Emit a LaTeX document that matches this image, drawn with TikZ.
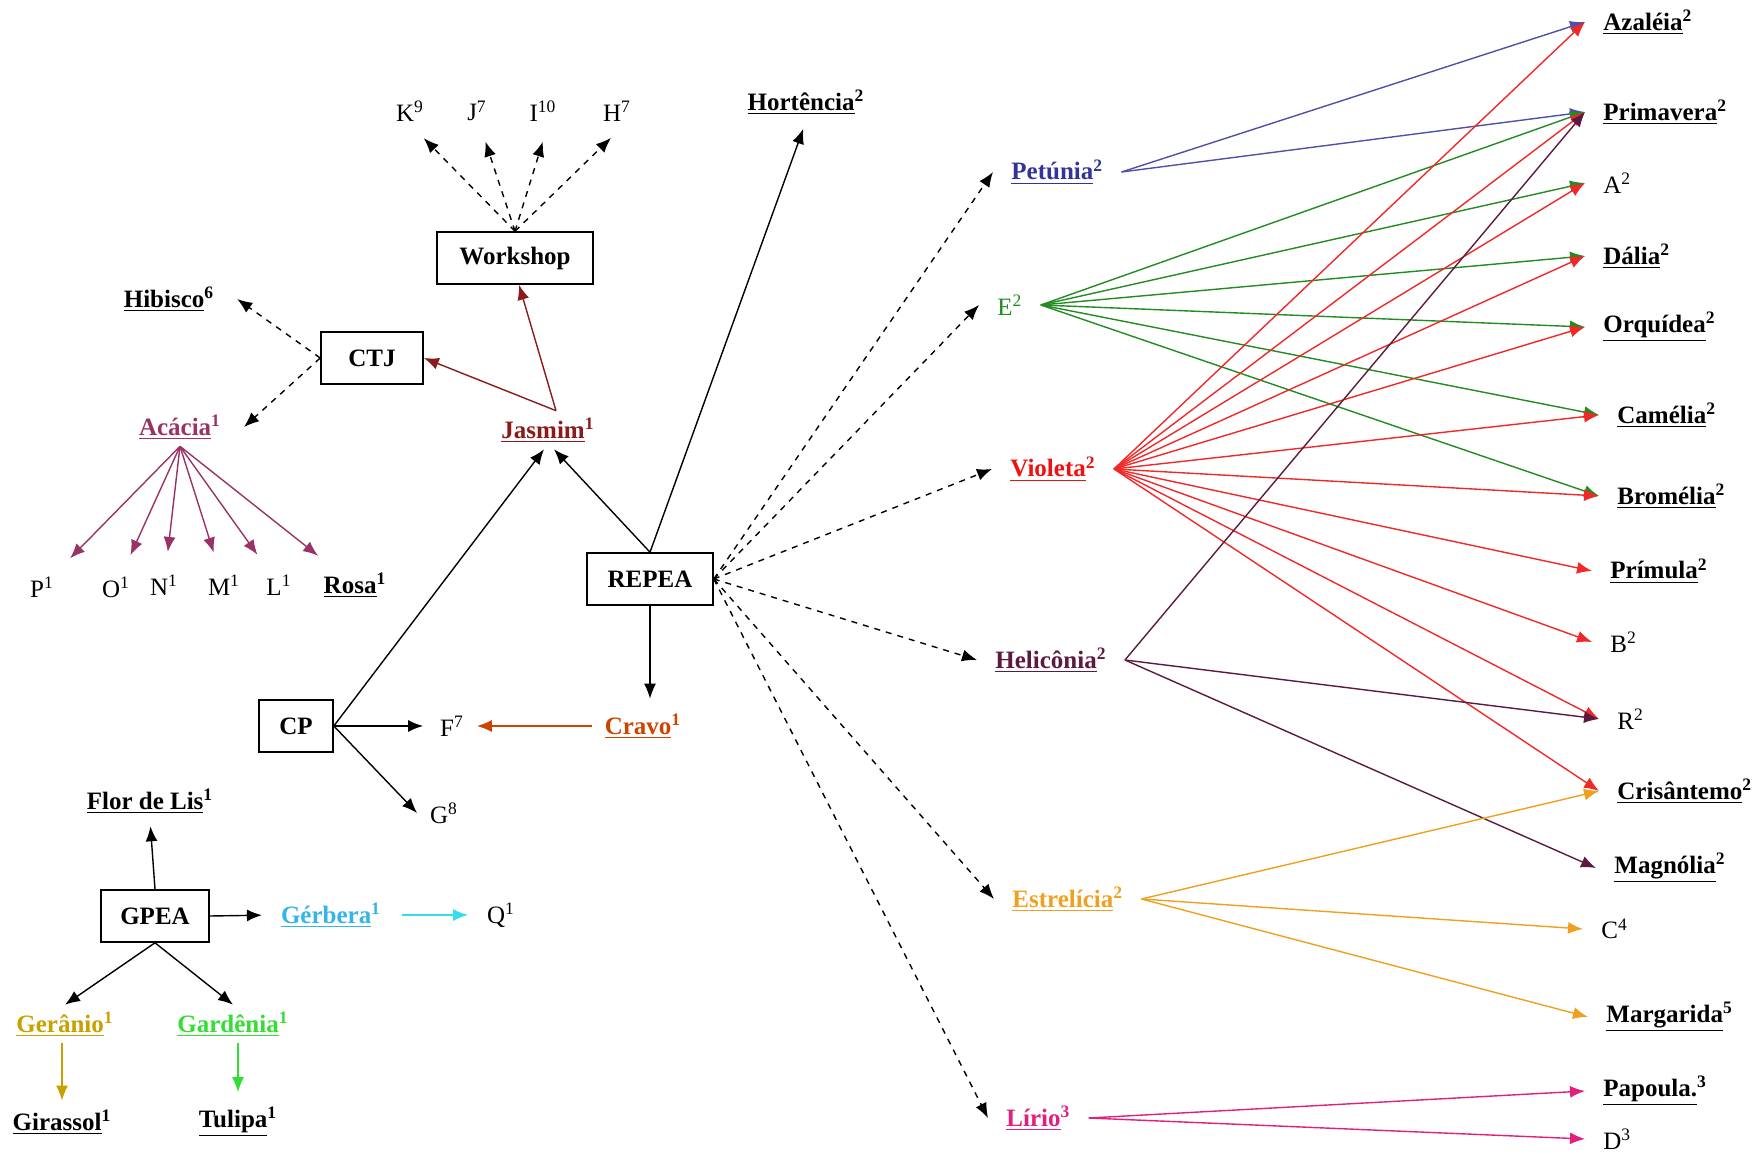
\documentclass[tikz,border=0pt]{standalone}
\usepackage{fontspec}
\setmainfont{Liberation Serif}
\usetikzlibrary{arrows.meta}

\definecolor{acacia}{HTML}{993366}
\definecolor{jasmim}{HTML}{8B1A1A}
\definecolor{cravo}{HTML}{CC4400}
\definecolor{gerbera}{HTML}{33B5E5}
\definecolor{gerbarrow}{HTML}{33DDEE}
\definecolor{geranio}{HTML}{C8A000}
\definecolor{gardenia}{HTML}{33DD33}
\definecolor{petunia}{HTML}{333399}
\definecolor{petarrow}{HTML}{5050A8}
\definecolor{egreen}{HTML}{228B22}
\definecolor{violeta}{HTML}{EE1111}
\definecolor{violarrow}{HTML}{F02828}
\definecolor{heliconia}{HTML}{5C1A40}
\definecolor{estrelicia}{HTML}{F0A020}
\definecolor{lirio}{HTML}{E0207A}

\begin{document}
\begin{tikzpicture}[
    x=0.5pt, y=-0.5pt,
    >={Latex[length=7.5pt,width=6pt]},
    font=\fontsize{12.5}{15}\selectfont,
    box/.style={
        draw,
        rectangle,
        minimum height=26pt,
        line width=0.8pt,
        font=\fontsize{12.5}{15}\selectfont\bfseries
    },
    flw/.style={font=\fontsize{12.5}{15}\selectfont\bfseries},
    side/.style={inner xsep=9pt, anchor=west},
    link/.style={->, line width=0.7pt},
    fan/.style={->, line width=0.7pt}
]
\useasboundingbox (0,0) rectangle (1760,1154);

% left part
\node (k9) at (410,111) {K\textsuperscript{9}};
\node (j7) at (477,111) {J\textsuperscript{7}};
\node (i10) at (543,111) {I\textsuperscript{10}};
\node (h7) at (617,111) {H\textsuperscript{7}};
\node[box, minimum width=78pt] (ws) at (515,258) {Workshop};
\node[flw] (hor) at (806,102) {\underline{Hortência}\textsuperscript{2}};
\node[flw] (hib) at (169,299) {\underline{Hibisco}\textsuperscript{6}};
\node[box, minimum width=51pt] (ctj) at (372,358) {CTJ};
\node[flw, text=acacia] (aca) at (180,427) {\underline{Acácia}\textsuperscript{1}};
\node[flw, text=jasmim] (jas) at (548,430) {\underline{Jasmim}\textsuperscript{1}};
\node (p1) at (42,587) {P\textsuperscript{1}};
\node (o1) at (116,587) {O\textsuperscript{1}};
\node (n1) at (164,585) {N\textsuperscript{1}};
\node (m1) at (224,585) {M\textsuperscript{1}};
\node (l1) at (279,585) {L\textsuperscript{1}};
\node[flw] (rosa) at (355,585) {\underline{Rosa}\textsuperscript{1}};
\node[box, minimum width=63pt] (repea) at (650,579) {REPEA};
\node[box, minimum width=37pt] (cp) at (296,726) {CP};
\node (f7) at (452,726) {F\textsuperscript{7}};
\node[flw, text=cravo] (cra) at (643,726) {\underline{Cravo}\textsuperscript{1}};
\node (g8) at (444,813) {G\textsuperscript{8}};
\node[flw] (flor) at (150,801) {\underline{Flor de Lis}\textsuperscript{1}};
\node[box, minimum width=54pt] (gpea) at (155,916) {GPEA};
\node[flw, text=gerbera] (ger) at (331,915) {\underline{Gérbera}\textsuperscript{1}};
\node (q1) at (501,915) {Q\textsuperscript{1}};
\node[flw, text=geranio] (gera) at (65,1024) {\underline{Gerânio}\textsuperscript{1}};
\node[flw, text=gardenia] (gard) at (233,1024) {\underline{Gardênia}\textsuperscript{1}};
\node[flw] (gira) at (62,1122) {\underline{Girassol}\textsuperscript{1}};
\node[flw] (tul) at (238,1122) {\underline{Tulipa}\textsuperscript{1}};

% middle column
\node[flw, side, text=petunia] (pet) at (993,172) {\underline{Petúnia}\textsuperscript{2}};
\node[side, text=egreen] (e2) at (979,305) {E\textsuperscript{2}};
\node[flw, side, text=violeta] (vio) at (992,469) {\underline{Violeta}\textsuperscript{2}};
\node[flw, side, text=heliconia] (hel) at (977,660) {\underline{Helicônia}\textsuperscript{2}};
\node[flw, side, text=estrelicia] (est) at (994,899) {\underline{Estrelícia}\textsuperscript{2}};
\node[flw, side, text=lirio] (lir) at (988,1118) {\underline{Lírio}\textsuperscript{3}};

% right column
\node[flw, side] (aza) at (1585,22) {\underline{Azaléia}\textsuperscript{2}};
\node[flw, side] (pri) at (1585,112) {\underline{Primavera}\textsuperscript{2}};
\node[side] (a2) at (1585,183) {A\textsuperscript{2}};
\node[flw, side] (dal) at (1585,256) {\underline{Dália}\textsuperscript{2}};
\node[flw, side] (orq) at (1585,327) {\underline{Orquídea}\textsuperscript{2}};
\node[flw, side] (cam) at (1599,415) {\underline{Camélia}\textsuperscript{2}};
\node[flw, side] (bro) at (1599,496) {\underline{Bromélia}\textsuperscript{2}};
\node[flw, side] (prm) at (1592,571) {\underline{Prímula}\textsuperscript{2}};
\node[side] (b2) at (1592,642) {B\textsuperscript{2}};
\node[side] (r2) at (1599,719) {R\textsuperscript{2}};
\node[flw, side] (cri) at (1599,791) {\underline{Crisântemo}\textsuperscript{2}};
\node[flw, side] (mag) at (1596,868) {\underline{Magnólia}\textsuperscript{2}};
\node[side] (c4) at (1583,929) {C\textsuperscript{4}};
\node[flw, side] (mar) at (1588,1017) {\underline{Margarida}\textsuperscript{5}};
\node[flw, side] (pap) at (1585,1091) {\underline{Papoula.}\textsuperscript{3}};
\node[side] (d3) at (1585,1139) {D\textsuperscript{3}};

% black and dashed links, left
\draw[link, dashed, shorten >=7pt] (ws.north) -- ([xshift=2pt]k9.south);
\draw[link, dashed, shorten >=7pt] (ws.north) -- ([xshift=2pt]j7.south);
\draw[link, dashed, shorten >=7pt] (ws.north) -- ([xshift=2pt]i10.south);
\draw[link, dashed, shorten >=7pt] (ws.north) -- ([xshift=2pt]h7.south);
\draw[link, jasmim] ([xshift=4pt]jas.north) -- ([xshift=2pt]ws.south);
\draw[link, jasmim] ([xshift=4pt]jas.north) -- (ctj.east);
\draw[link, dashed] (ctj.west) -- ([xshift=8pt]hib.east);
\draw[link, dashed] (ctj.west) -- ([xshift=8pt]aca.east);
\draw[link] (cp.east) -- ([xshift=-2pt]jas.south);
\draw[link] (repea.north) -- ([xshift=3pt]jas.south);
\draw[link, shorten >=4pt] (repea.north) -- (hor.south);
\draw[link, shorten >=4pt] (repea.south) -- (repea.south |- cra.north);
\draw[link, cravo, shorten <=3pt, shorten >=3pt] (cra.west) -- (f7.east);
\draw[link, shorten >=5pt] (cp.east) -- (f7.west);
\draw[link] (cp.east) -- ([xshift=-3pt]g8.west);

\draw[fan, acacia, shorten >=8pt] (aca.south) -- (p1);
\draw[fan, acacia, shorten >=8pt] (aca.south) -- (o1);
\draw[fan, acacia, shorten >=8pt] (aca.south) -- (n1);
\draw[fan, acacia, shorten >=8pt] (aca.south) -- (m1);
\draw[fan, acacia, shorten >=8pt] (aca.south) -- (l1);
\draw[fan, acacia, shorten >=8pt] (aca.south) -- (rosa);

\draw[link, shorten >=3pt] (gpea.north) -- (flor.south);
\draw[link, shorten >=6pt] (gpea.east) -- (ger.west);
\draw[fan, gerbarrow, shorten <=7pt, shorten >=6pt] (ger.east) -- (q1.west);
\draw[link] (gpea.south) -- (gera.north);
\draw[link] (gpea.south) -- (gard.north);
\draw[fan, geranio, shorten >=1pt] (gira.north |- gera.south) -- (gira.north);
\draw[fan, gardenia, shorten >=4pt] (tul.north |- gard.south) -- (tul.north);

% REPEA to the middle column
\draw[link, dashed] (repea.east) -- (pet.west);
\draw[link, dashed] (repea.east) -- (e2.west);
\draw[link, dashed] (repea.east) -- (vio.west);
\draw[link, dashed] (repea.east) -- (hel.west);
\draw[link, dashed] (repea.east) -- (est.west);
\draw[link, dashed] (repea.east) -- (lir.west);

% fans to the right column
\draw[fan, petarrow] (pet.east) -- (aza.west);
\draw[fan, petarrow] (pet.east) -- (pri.west);

\draw[fan, egreen] (e2.east) -- (pri.west);
\draw[fan, egreen] (e2.east) -- (a2.west);
\draw[fan, egreen] (e2.east) -- (dal.west);
\draw[fan, egreen] (e2.east) -- (orq.west);
\draw[fan, egreen] (e2.east) -- (cam.west);
\draw[fan, egreen] (e2.east) -- (bro.west);

\draw[fan, violarrow] (vio.east) -- (aza.west);
\draw[fan, violarrow] (vio.east) -- (pri.west);
\draw[fan, violarrow] (vio.east) -- (a2.west);
\draw[fan, violarrow] (vio.east) -- (dal.west);
\draw[fan, violarrow] (vio.east) -- (orq.west);
\draw[fan, violarrow] (vio.east) -- (cam.west);
\draw[fan, violarrow] (vio.east) -- (bro.west);
\draw[fan, violarrow] (vio.east) -- (prm.west);
\draw[fan, violarrow] (vio.east) -- (b2.west);
\draw[fan, violarrow] (vio.east) -- (r2.west);
\draw[fan, violarrow] (vio.east) -- (cri.west);

\draw[fan, heliconia] (hel.east) -- (pri.west);
\draw[fan, heliconia] (hel.east) -- (r2.west);
\draw[fan, heliconia] (hel.east) -- (mag.west);

\draw[fan, estrelicia] (est.east) -- (cri.west);
\draw[fan, estrelicia] (est.east) -- (c4.west);
\draw[fan, estrelicia] (est.east) -- (mar.west);

\draw[fan, lirio] (lir.east) -- (pap.west);
\draw[fan, lirio] (lir.east) -- (d3.west);
\end{tikzpicture}
\end{document}
